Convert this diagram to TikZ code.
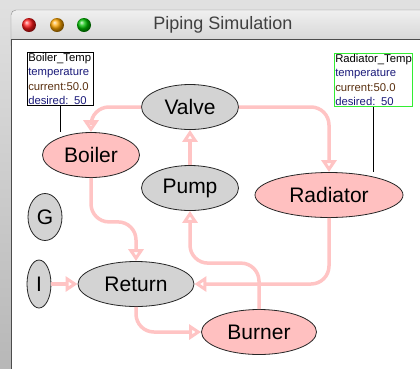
\documentclass[tikz,border=0pt]{standalone}
\usepackage{fontspec}
\setmainfont{Liberation Sans}
\usepackage{tikz}
\usetikzlibrary{shapes,arrows,arrows.meta}
\usetikzlibrary{positioning}
\definecolor{pipe}{HTML}{FFC4C4}
\definecolor{hotfill}{HTML}{FFC0C0}
\definecolor{coldfill}{HTML}{D3D3D3}
\definecolor{tagblue}{HTML}{1A1A7A}
\definecolor{tagbrown}{HTML}{5A3010}
\definecolor{tagframe}{HTML}{33EE33}
\tikzstyle{hot} = [ellipse, draw=black!85, line width=0.8pt, fill=hotfill, inner sep=0pt,
    minimum width=97pt, minimum height=45pt, font=\fontsize{21}{24}\selectfont]
\tikzstyle{cold} = [hot, fill=coldfill]
\tikzstyle{sensor} = [rectangle, draw, line width=0.9pt, anchor=north west, align=left,
    inner xsep=0.8pt, inner ysep=1pt, font=\fontsize{11.3}{14.3}\selectfont]
\tikzstyle{line} = [draw=pipe, line width=3.5pt, rounded corners=18pt,
    -{Triangle[open,length=12pt,width=15pt]}]
\tikzstyle{probe} = [draw, line width=0.8pt]

\begin{document}
\begin{tikzpicture}[x=1pt,y=-1pt]
    \useasboundingbox (0,0) rectangle (420,368);
    % Window
    \shade[top color=black!12, bottom color=black!28] (0,0) rectangle (420,368);
    \shade[top color=black!6, bottom color=black!19, draw=black!45, rounded corners=5pt]
        (11,50) rectangle (440,10);
    \fill[white] (12,40) rectangle (430,380);
    \draw[black!70, line width=1pt] (11.5,380) -- (11.5,39.5) -- (430,39.5);
    \shade[ball color=red!90] (29,25) circle [radius=7pt];
    \shade[ball color=orange!70!yellow] (57,25) circle [radius=7pt];
    \shade[ball color=green!75!black] (84,25) circle [radius=7pt];
    \node[text=black!75, font=\fontsize{18}{20}\selectfont] (title) at (223,25) {Piping Simulation};
    % Place nodes
    \node [cold] (valve) at (190,107) {Valve};
    \node [cold] (pump) at (190,188) {Pump};
    \node [hot, minimum width=148pt] (radiator) at (329,195) {Radiator};
    \node [hot] (boiler) at (91,155) {Boiler};
    \node [cold, minimum width=34pt, minimum height=47pt] (g) at (45,217) {G};
    \node [cold, minimum width=24pt, minimum height=48pt] (i) at (39,284) {I};
    \node [cold, minimum width=116pt] (return) at (136,284) {Return};
    \node [hot, minimum width=115pt] (burner) at (259,332) {Burner};
    \node [sensor, text width=64.4pt] (btemp) at (27,52) {Boiler\_Temp\\
        \textcolor{tagblue}{temperature}\\\textcolor{tagbrown}{current:50.0}\\
        \textcolor{tagblue}{desired: 50}};
    \node [sensor, draw=tagframe, text width=76.4pt] (rtemp) at (334,53) {Radiator\_Temp\\
        \textcolor{tagblue}{temperature}\\\textcolor{tagbrown}{current:50.0}\\
        \textcolor{tagblue}{desired: 50}};
    % Draw edges
    \path [line] (valve.west) -| (boiler.north);
    \path [line] (valve.east) -| (radiator.north);
    \path [line] (pump.north) -- (valve.south);
    \path [line] (boiler.south) -- ++(0,44) -| (return.north);
    \path [line] (radiator.south) |- (return.east);
    \path [line] (burner.north) -- ++(0,-46) -| (pump.south);
    \path [line] (i.east) -- (return.west);
    \path [line] (return.south) |- (burner.west);
    \path [probe] (btemp.south) -- (btemp.south |- boiler.north);
    \path [probe] (rtemp.south) -- (rtemp.south |- radiator.north);
\end{tikzpicture}
\end{document}
